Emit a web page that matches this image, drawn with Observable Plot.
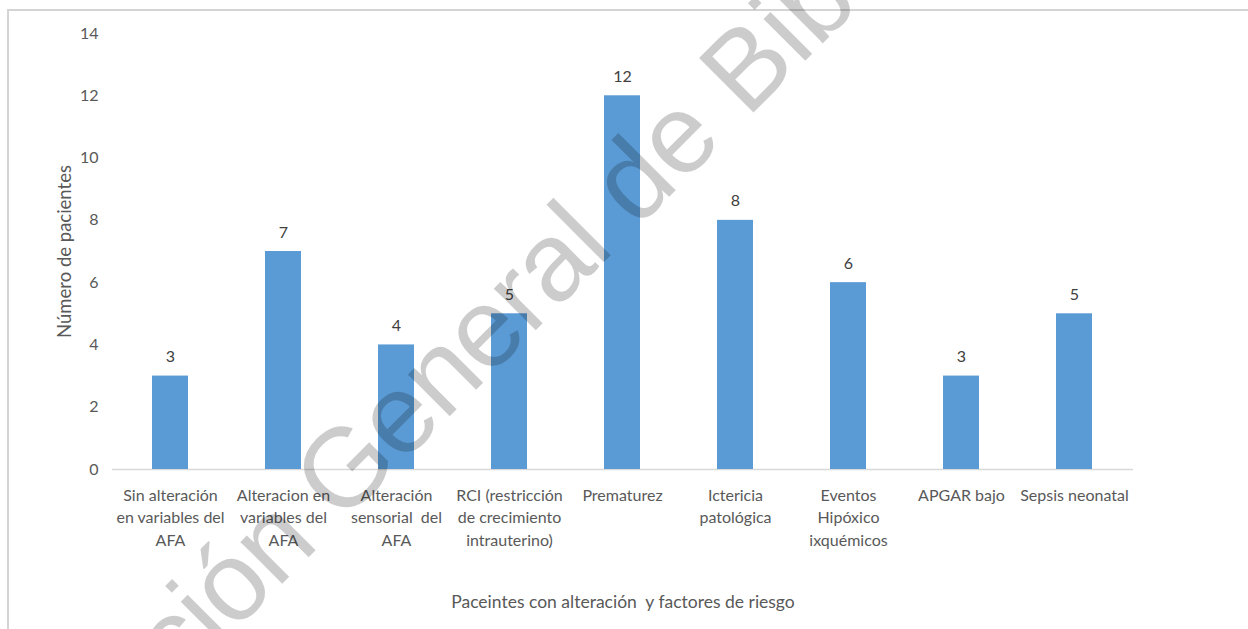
<!DOCTYPE html>
<html>
<head>
<meta charset="utf-8">
<script src="https://cdn.jsdelivr.net/npm/d3@7"></script>
<script src="https://cdn.jsdelivr.net/npm/@observablehq/plot@0.6"></script>
<style>
  html, body { margin: 0; padding: 0; background: #fff; }
  #wrap { position: relative; width: 1248px; height: 629px; overflow: hidden; }
  #border { position: absolute; left: 7px; top: 9px; width: 1300px; height: 700px;
            border-top: 2px solid #d4d4d4; border-left: 2px solid #d4d4d4; }
  #chart { position: absolute; left: 0; top: 0; }
  #wm { position: absolute; left: 0; top: 0; pointer-events: none; }
  svg text { white-space: pre; }
</style>
</head>
<body>
<div id="wrap">
  <div id="border"></div>
  <div id="chart"></div>
  <svg id="wm" width="1248" height="629"></svg>
</div>
<script>
// ---- data ----
const categories = [
  "Sin alteración en variables del AFA",
  "Alteracion en variables del AFA",
  "Alteración sensorial del AFA",
  "RCI",
  "Prematurez",
  "Ictericia patológica",
  "Eventos Hipóxico ixquémicos",
  "APGAR bajo",
  "Sepsis neonatal"
];
const tickLabels = [
  "Sin alteración\nen variables del\nAFA",
  "Alteracion en\nvariables del\nAFA",
  "Alteración\nsensorial  del\nAFA",
  "RCI (restricción\nde crecimiento\nintrauterino)",
  "Prematurez",
  "Ictericia\npatológica",
  "Eventos\nHipóxico\nixquémicos",
  "APGAR bajo",
  "Sepsis neonatal"
];
const values = [3, 7, 4, 5, 12, 8, 6, 3, 5];
const yTicks = [0, 2, 4, 6, 8, 10, 12, 14];
const yTitle = "Número de pacientes";
const xTitle = "Paceintes con alteración  y factores de riesgo";
const watermark = ["Dirección General", "de Bibliotecas"];

const rows = categories.map((c, i) => ({cat: c, label: tickLabels[i], value: values[i]}));
const FONT = "Lato, 'Open Sans', sans-serif";

const chart = Plot.plot({
  width: 1248,
  height: 629,
  marginLeft: 112,
  marginRight: 115,
  marginTop: 33,
  marginBottom: 160,
  style: {fontFamily: FONT, background: "transparent"},
  x: {domain: categories, paddingInner: 0.68, paddingOuter: 0.34, axis: null},
  y: {domain: [0, 14], axis: null},
  marks: [
    Plot.axisY({ticks: yTicks, tickSize: 0, tickPadding: 14, fontSize: 16, color: "#595959", label: null}),
    Plot.ruleY([0], {stroke: "#d9d9d9", strokeWidth: 1.3}),
    Plot.barY(rows, {x: "cat", y: "value", fill: "#5b9bd5"}),
    Plot.text(rows, {x: "cat", y: "value", text: d => String(d.value), lineAnchor: "bottom", dy: -14,
                     fontSize: 16, fill: "#404040"}),
    Plot.text(rows, {x: "cat", text: "label", frameAnchor: "bottom", lineAnchor: "top", dy: 15,
                     lineHeight: 1.41, fontSize: 16, fill: "#595959"}),
    Plot.text([yTitle], {text: d => d, frameAnchor: "left", textAnchor: "middle", rotate: -90, dx: -47,
                         fontSize: 18.5, fill: "#595959"}),
    Plot.text([xTitle], {text: d => d, frameAnchor: "bottom", dy: 138,
                         fontSize: 17.5, fill: "#595959"})
  ]
});
document.getElementById("chart").appendChild(chart);

// watermark overlay
const wm = d3.select("#wm");
const g = wm.append("g").attr("fill", "rgba(0,0,0,0.2)")
  .style("font-family", "'Liberation Sans', Arial, sans-serif").style("font-size", "112px");
g.append("text").attr("transform", "translate(615,251) rotate(-45)")
  .attr("text-anchor", "end").style("letter-spacing", "-1.5px").text(watermark[0]);
g.append("text").attr("transform", "translate(637,229) rotate(-45)")
  .attr("text-anchor", "start").text(watermark[1]);
</script>
</body>
</html>
